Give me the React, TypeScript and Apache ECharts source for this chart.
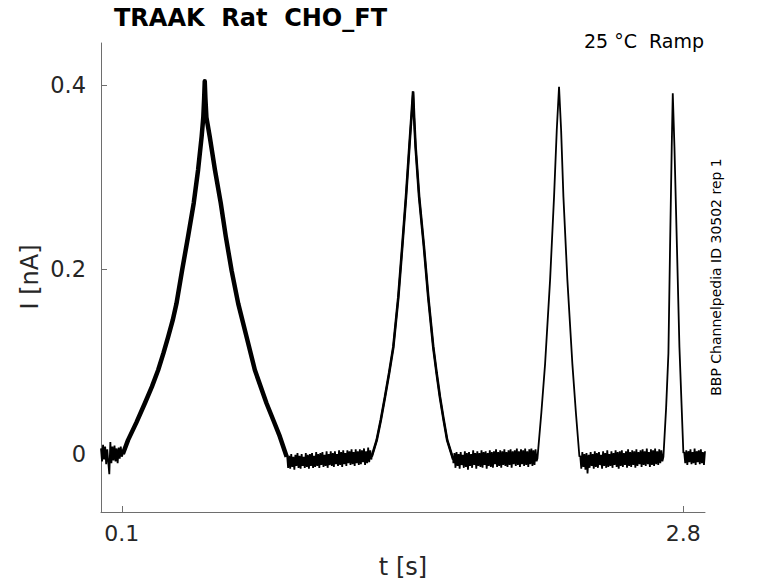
import React, { useEffect, useRef } from "react";
import * as echarts from "echarts";

// Recorded current trace (t in s, I in nA)
const DT = 0.005; // sampling step of the baseline stretches

const base1 = [0.006, -0.008, 0.010, -0.006, 0.008, -0.011, 0.005, -0.009, -0.022, 0.013, -0.010, 0.008, -0.007, 0.009, -0.008, 0.006, -0.010, 0.007, -0.005, 0.008, -0.003];

const ramp1: [number, number][] = [
  [0.105, 0.0], [0.13, 0.015], [0.17, 0.034], [0.211, 0.055], [0.245, 0.073], [0.275, 0.091], [0.3, 0.109],
  [0.323, 0.127], [0.345, 0.145], [0.363, 0.163], [0.39, 0.199], [0.419, 0.236], [0.446, 0.272], [0.467, 0.308],
  [0.484, 0.344], [0.492, 0.365], [0.496, 0.385], [0.499, 0.404],
  [0.502, 0.386], [0.507, 0.365], [0.523, 0.344], [0.548, 0.308], [0.576, 0.272], [0.6, 0.236], [0.628, 0.199],
  [0.66, 0.163], [0.7, 0.127], [0.74, 0.091], [0.796, 0.055], [0.83, 0.036], [0.86, 0.019], [0.893, -0.003],
];

const base2 = [
  -0.001, -0.015, -0.002, -0.016, 0.000, -0.014, -0.003, -0.017, -0.001, -0.013,
  0.001, -0.015, -0.002, -0.016, 0.000, -0.013, -0.003, -0.015, 0.001, -0.014,
  -0.001, -0.016, 0.000, -0.013, 0.001, -0.015, -0.002, -0.014, 0.002, -0.013,
  0.000, -0.015, 0.001, -0.012, 0.002, -0.014, -0.001, -0.013, 0.003, -0.015,
  0.000, -0.012, 0.003, -0.013, 0.001, -0.014, 0.003, -0.011, 0.000, -0.013,
  0.004, -0.012, 0.002, -0.014, 0.004, -0.011, 0.001, -0.013, 0.004, -0.010,
  0.003, -0.012, 0.005, -0.011, 0.002, -0.013, 0.005, -0.010, 0.003, -0.012,
  0.005, -0.011, 0.004, -0.009, 0.006, -0.012, 0.003, -0.010, 0.007, -0.009,
  0.004, -0.006,
];

const ramp2: [number, number][] = [
  [1.302, -0.003], [1.326, 0.015], [1.346, 0.037], [1.366, 0.062], [1.386, 0.088], [1.406, 0.116], [1.43, 0.17],
  [1.449, 0.225], [1.467, 0.279], [1.483, 0.333], [1.494, 0.369], [1.501, 0.393],
  [1.506, 0.365], [1.513, 0.333], [1.53, 0.279], [1.553, 0.225], [1.574, 0.17], [1.598, 0.116], [1.614, 0.088],
  [1.63, 0.062], [1.648, 0.037], [1.665, 0.015], [1.694, -0.006],
];

const base3 = [
  -0.010, 0.001, -0.015, 0.002, -0.013, 0.000, -0.016, 0.002, -0.012, -0.001,
  -0.015, 0.003, -0.014, 0.001, -0.017, 0.002, -0.013, 0.000, -0.015, 0.004,
  -0.012, 0.001, -0.016, 0.003, -0.013, 0.001, -0.014, 0.004, -0.015, 0.002,
  -0.012, 0.003, -0.016, 0.001, -0.013, 0.004, -0.014, 0.002, -0.015, 0.003,
  -0.011, 0.005, -0.014, 0.002, -0.013, 0.004, -0.015, 0.003, -0.012, 0.005,
  -0.013, 0.002, -0.014, 0.004, -0.012, 0.005, -0.015, 0.003, -0.011, 0.004,
  -0.013, 0.006, -0.012, 0.003, -0.014, 0.005, -0.011, 0.004, -0.013, 0.006,
  -0.012, 0.003, -0.014, 0.005, -0.011, 0.006, -0.013, 0.004, -0.012, 0.005,
  -0.008,
];

const ramp3: [number, number][] = [
  [2.099, -0.005], [2.118, 0.045], [2.136, 0.098], [2.16, 0.189], [2.179, 0.279], [2.192, 0.351], [2.203, 0.398],
  [2.213, 0.351], [2.224, 0.279], [2.243, 0.189], [2.267, 0.098], [2.284, 0.045], [2.301, -0.003],
];

const base4 = [
  -0.002, -0.016, 0.002, -0.014, 0.000, -0.017, 0.001, -0.021, -0.001, -0.015,
  0.002, -0.013, 0.000, -0.016, 0.003, -0.014, 0.001, -0.015, 0.002, -0.012,
  -0.001, -0.016, 0.003, -0.013, 0.001, -0.015, 0.004, -0.014, 0.000, -0.013,
  0.003, -0.015, 0.001, -0.012, 0.004, -0.014, 0.002, -0.016, 0.003, -0.013,
  0.004, -0.014, 0.001, -0.012, 0.003, -0.015, 0.005, -0.013, 0.002, -0.014,
  0.004, -0.012, 0.003, -0.015, 0.005, -0.013, 0.002, -0.011, 0.004, -0.014,
  0.005, -0.012, 0.003, -0.013, 0.006, -0.011, 0.002, -0.014, 0.005, -0.012,
  0.004, -0.013, 0.006, -0.011, 0.003, -0.012, 0.005, -0.010, 0.004, -0.008,
];

const ramp4: [number, number][] = [
  [2.705, -0.003], [2.718, 0.05], [2.729, 0.109], [2.737, 0.225], [2.745, 0.333], [2.75, 0.391],
  [2.758, 0.333], [2.77, 0.225], [2.782, 0.116], [2.792, 0.055], [2.801, 0.001],
];

const base5 = [0.002, -0.010, 0.004, -0.012, 0.003, -0.009, 0.005, -0.011, 0.002, -0.010, 0.006, -0.012, 0.003, -0.009, 0.004, -0.011, 0.005, -0.010, 0.002, -0.012, 0.003];

const baseStarts = [0.0, 0.895, 1.695, 2.305, 2.805];

const xTicks = [0.1, 2.8];
const yTicks = [0, 0.2, 0.4];

const titleText = "TRAAK  Rat  CHO_FT";
const conditionText = "25 °C  Ramp";
const sourceText = "BBP Channelpedia ID 30502 rep 1";
const xName = "t [s]";
const yName = "I [nA]";

function sampled(t0: number, vals: number[]): [number, number][] {
  return vals.map((v, i) => [+(t0 + i * DT).toFixed(4), v]);
}

const FONT = "DejaVu Sans";

export default function App() {
  const ref = useRef<HTMLDivElement>(null);
  useEffect(() => {
    if (!ref.current) return;
    const chart = echarts.init(ref.current, null, { renderer: "svg" });
    const trace = [
      ...sampled(baseStarts[0], base1),
      ...ramp1,
      ...sampled(baseStarts[1], base2),
      ...ramp2,
      ...sampled(baseStarts[2], base3),
      ...ramp3,
      ...sampled(baseStarts[3], base4),
      ...ramp4,
      ...sampled(baseStarts[4], base5),
    ];
    const axisLineStyle = { color: "#6e6e6e", width: 1 };
    chart.setOption({
      animation: false,
      backgroundColor: "#ffffff",
      grid: { left: 101, right: 73, top: 43, bottom: 71 },
      xAxis: {
        type: "value",
        min: 0,
        max: 2.905,
        axisLine: { show: true, onZero: false, lineStyle: axisLineStyle },
        axisTick: { show: true, inside: true, length: 6, customValues: xTicks, lineStyle: axisLineStyle },
        axisLabel: { customValues: xTicks, fontSize: 22, color: "#262626", margin: 10, fontFamily: FONT },
        splitLine: { show: false },
      },
      yAxis: {
        type: "value",
        min: -0.0629,
        max: 0.4455,
        axisLine: { show: true, onZero: false, lineStyle: axisLineStyle },
        axisTick: { show: true, inside: true, length: 6, customValues: yTicks, lineStyle: axisLineStyle },
        axisLabel: { customValues: yTicks, fontSize: 22.5, color: "#262626", margin: 15, fontFamily: FONT },
        splitLine: { show: false },
      },
      series: [
        {
          type: "line",
          data: trace,
          showSymbol: false,
          symbol: "none",
          silent: true,
          lineStyle: { color: "#000000", width: 1.8 },
        },
        {
          type: "line",
          data: ramp1,
          showSymbol: false,
          symbol: "none",
          silent: true,
          lineStyle: { color: "#000000", width: 4.5, join: "round" },
        },
        {
          type: "line",
          data: ramp2,
          showSymbol: false,
          symbol: "none",
          silent: true,
          lineStyle: { color: "#000000", width: 2.6 },
        },
      ],
      graphic: [
        {
          type: "text",
          x: 114,
          y: 18,
          style: { text: titleText, fontFamily: FONT, fontWeight: "bold", fontSize: 24, fill: "#000", align: "left", verticalAlign: "middle" },
        },
        {
          type: "text",
          x: 704,
          y: 41,
          style: { text: conditionText, fontFamily: FONT, fontSize: 19, fill: "#000", align: "right", verticalAlign: "middle" },
        },
        {
          type: "text",
          x: 716,
          y: 277,
          rotation: Math.PI / 2,
          style: { text: sourceText, fontFamily: FONT, fontSize: 14, fill: "#000", align: "center", verticalAlign: "middle" },
        },
        {
          type: "text",
          x: 30,
          y: 277,
          rotation: Math.PI / 2,
          style: { text: yName, fontFamily: FONT, fontSize: 24, fill: "#262626", align: "center", verticalAlign: "middle" },
        },
        {
          type: "text",
          x: 403,
          y: 567,
          style: { text: xName, fontFamily: FONT, fontSize: 24, fill: "#262626", align: "center", verticalAlign: "middle" },
        },
      ],
    });
    return () => chart.dispose();
  }, []);
  return (
    <div
      ref={ref}
      style={{ position: "fixed", left: 0, top: 0, width: 778, height: 583, background: "#fff" }}
    />
  );
}
